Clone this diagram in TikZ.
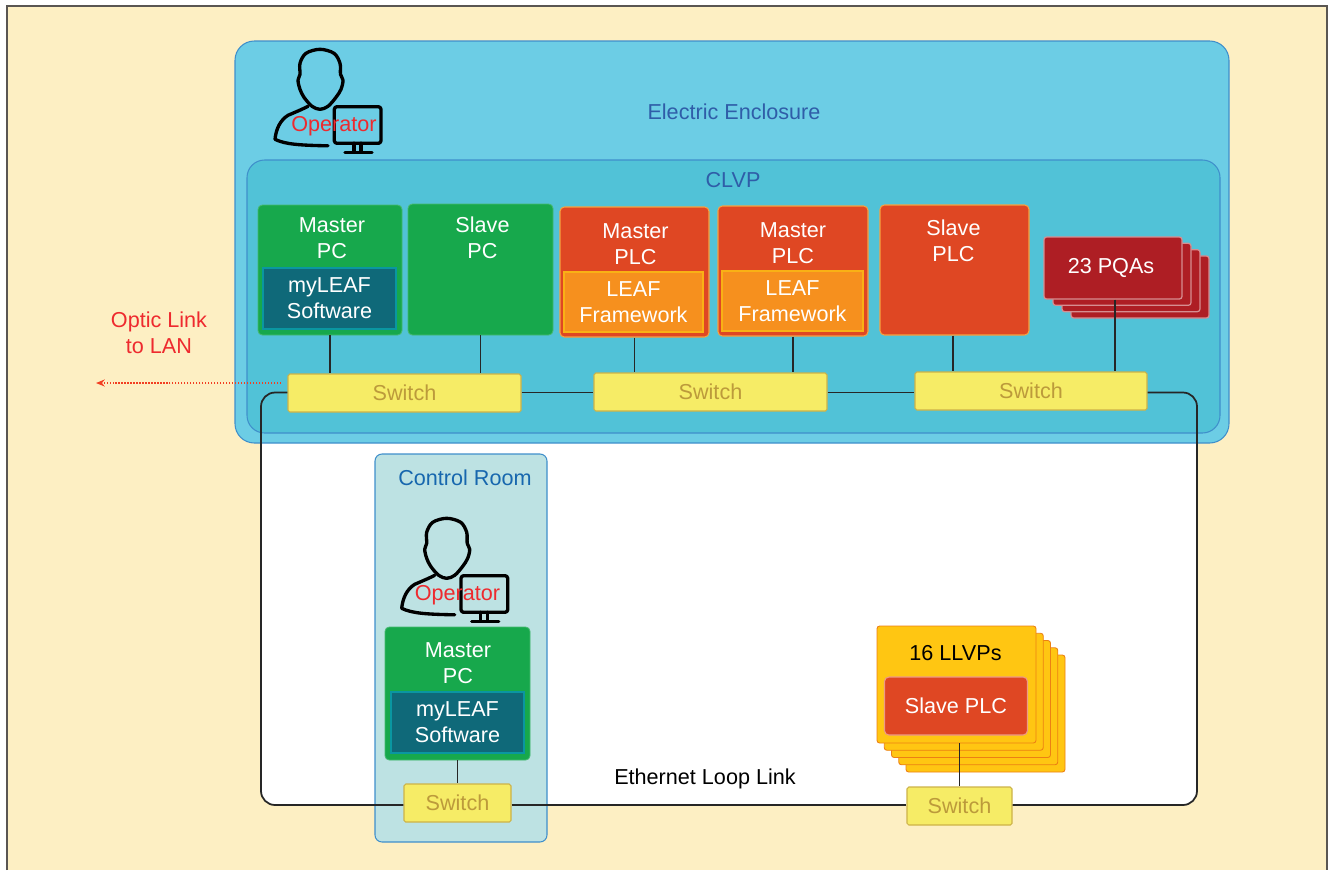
\documentclass[tikz,border=0pt]{standalone}
\usepackage{fontspec}
\setmainfont{Liberation Sans}
\usetikzlibrary{arrows.meta}
\definecolor{cream}{HTML}{FDEFC3}
\definecolor{framegray}{HTML}{5A5652}
\definecolor{enclfill}{HTML}{6CCDE5}
\definecolor{clvpfill}{HTML}{51C2D7}
\definecolor{edgeblue}{HTML}{3F8FCB}
\definecolor{titleblue}{HTML}{2F5DA8}
\definecolor{roomfill}{HTML}{BDE2E3}
\definecolor{roomblue}{HTML}{1767AE}
\definecolor{pcgreen}{HTML}{17A84C}
\definecolor{softteal}{HTML}{0F6979}
\definecolor{plcred}{HTML}{DF4723}
\definecolor{leaforange}{HTML}{F6901E}
\definecolor{pqared}{HTML}{AE1E24}
\definecolor{llvpyellow}{HTML}{FFC612}
\definecolor{swyellow}{HTML}{F6EC66}
\definecolor{swtext}{HTML}{BC9A3B}
\definecolor{oprred}{HTML}{EE2A2E}
\tikzset{
  sz/.style 2 args={minimum width=#1*0.02cm,minimum height=#2*0.02cm,inner sep=0pt},
  lbl/.style={font=\fontsize{12.3}{14.8}\selectfont,align=center,inner sep=0pt},
  wlbl/.style={lbl,white},
  pcbox/.style={draw=pcgreen!80!white,fill=pcgreen,line width=0.5pt,rounded corners=2.5pt},
  softbox/.style={wlbl,draw=softteal!70!cyan,fill=softteal,line width=0.6pt},
  plcbox/.style={draw=leaforange!85!white,fill=plcred,line width=0.6pt,rounded corners=2.5pt},
  leafbox/.style={wlbl,draw=leaforange!70!yellow,fill=leaforange,line width=0.6pt},
  pqabox/.style={draw=pqared!50!white,fill=pqared,line width=0.7pt,rounded corners=1.5pt},
  llvpbox/.style={draw=orange!70!brown,fill=llvpyellow,line width=0.5pt,rounded corners=1.5pt},
  switchbox/.style={lbl,swtext,draw=swtext!70!swyellow,fill=swyellow,line width=0.6pt,rounded corners=1pt},
  link/.style={line width=1pt,black!85},
  opline/.style={line width=1.9pt,black,line cap=round,line join=round},
}
% operator figure, origin at the top of the head
\newcommand{\opicon}[2]{
  \begin{scope}[shift={(#1,#2)}]
    \draw[opline] plot[smooth cycle,tension=.55] coordinates {(0,0) (14,4) (20,14) (20.5,25) (23,31) (21,40) (16,48) (8,57) (0,60) (-8,57) (-16,48) (-20,40) (-22,31) (-20,25) (-20,14) (-14,4)};
    \draw[opline] (-12,57) .. controls (-18,60) .. (-32,66) .. controls (-40,71) and (-44,80) .. (-45,90) .. controls (-35,95) and (-20,96) .. (8,96.5);
    \draw[opline,rounded corners=1.5pt] (14.3,57.4) rectangle (61,94);
    \draw[opline] (34,94) -- (34,103);
    \draw[opline] (41,94) -- (41,103);
    \draw[opline] (25,103) -- (52,103);
  \end{scope}
}
\begin{document}
\begin{tikzpicture}[x=0.02cm,y=-0.02cm]
  \useasboundingbox (0,0) rectangle (1329,870);
  \fill[white] (0,0) rectangle (1329,870);
  \fill[cream] (7,6) rectangle (1327,870);
  \draw[framegray,line width=1.2pt] (7,870) -- (7,6) -- (1327,6) -- (1327,870);

  % white area inside the ethernet loop
  \fill[white,rounded corners=8pt] (261,392) rectangle (1197,805);

  % enclosure and room panels
  \node[sz={994}{402},draw=edgeblue,fill=enclfill,line width=0.6pt,rounded corners=11pt] (encl) at (732,242) {};
  \node[sz={973}{273},draw=edgeblue,fill=clvpfill,line width=0.6pt,rounded corners=10pt] (clvp) at (733.5,296.5) {};
  \node[sz={172}{388},draw=edgeblue,fill=roomfill,line width=0.6pt,rounded corners=4pt] (room) at (461,648) {};

  \node[lbl,titleblue] (encltxt) at (734,112) {Electric Enclosure};
  \node[lbl,titleblue] (clvptxt) at (733,180) {CLVP};
  \node[lbl,roomblue] (roomtxt) at (465,478) {Control Room};
  \node[lbl,oprred] (optictxt) at (159,332.5) {Optic Link\\to LAN};
  \node[lbl,black] (looptxt) at (705,778.5) {Ethernet Loop Link};

  \opicon{320}{49.3}
  \opicon{446.7}{518.3}
  \node[lbl,oprred] (opr1) at (334,126.5) {Operator};
  \node[lbl,oprred] (opr2) at (457.5,595.5) {Operator};

  % CLVP cabinets
  \node[pcbox,sz={144}{130}] (mpc) at (330,270) {};
  \node[wlbl] (mpctxt) at (332,238) {Master\\PC};
  \node[softbox,sz={133}{61}] (msoft) at (329.5,298.5) {myLEAF\\Software};

  \node[pcbox,sz={145}{131}] (spc) at (480.5,269.5) {};
  \node[wlbl] (spctxt) at (482.5,238) {Slave\\PC};

  \node[plcbox,sz={149}{130}] (mplca) at (634.5,272) {};
  \node[wlbl] (mplcatxt) at (635.5,244) {Master\\PLC};
  \node[leafbox,sz={139}{60}] (leafa) at (633.5,302) {LEAF\\Framework};

  \node[plcbox,sz={150}{130}] (mplcb) at (793,271) {};
  \node[wlbl] (mplcbtxt) at (793,243) {Master\\PLC};
  \node[leafbox,sz={141}{60}] (leafb) at (792.5,301) {LEAF\\Framework};

  \node[plcbox,sz={149}{130}] (splc) at (954.5,270) {};
  \node[wlbl] (splctxt) at (953.5,240.5) {Slave\\PLC};

  % stack of PQAs
  \foreach \i in {3,2,1} {
    \node[pqabox,sz={138}{62}] (pqa\i) at ({1113+9*\i},{268+6.33*\i}) {};
  }
  \node[pqabox,sz={138}{62}] (pqa) at (1113,268) {};
  \node[wlbl] (pqatxt) at (1111,267.5) {23 PQAs};

  % stack of LLVPs
  \foreach \i in {4,3,2,1} {
    \node[llvpbox,sz={159}{117}] (llvp\i) at ({956.5+7.25*\i},{684.5+7.25*\i}) {};
  }
  \node[llvpbox,sz={159}{117}] (llvp) at (956.5,684.5) {};
  \node[lbl,black] (llvptxt) at (955.5,653.5) {16 LLVPs};
  \node[wlbl,plcbox,sz={143}{58},draw=plcred!55!white] (llplc) at (956,706) {Slave PLC};

  % control room PC
  \node[pcbox,sz={145}{133}] (rpc) at (457.5,693.5) {};
  \node[wlbl] (rpctxt) at (458,663.5) {Master\\PC};
  \node[softbox,sz={133}{61}] (rsoft) at (457.5,722.5) {myLEAF\\Software};

  % switches
  \node[switchbox,sz={233}{38}] (swa) at (404.5,393) {Switch};
  \node[switchbox,sz={233}{38}] (swb) at (710.5,392) {Switch};
  \node[switchbox,sz={232}{38}] (swc) at (1031,391) {Switch};
  \node[switchbox,sz={107}{38}] (swroom) at (457.5,803) {Switch};
  \node[switchbox,sz={105}{38}] (swll) at (959.5,806) {Switch};

  % drops to the switches
  \draw[link] (mpc.south) -- (mpc.south |- swa.north);
  \draw[link] (spc.south) -- (spc.south |- swa.north);
  \draw[link] (mplca.south) -- (mplca.south |- swb.north);
  \draw[link] (mplcb.south) -- (mplcb.south |- swb.north);
  \draw[link] ([xshift=-0.035cm]splc.south) -- ([xshift=-0.035cm]splc.south |- swc.north);
  \draw[link] ([xshift=0.04cm]pqa.south) -- ([xshift=0.04cm]pqa.south |- swc.north);
  \draw[link] (rpc.south) -- (swroom.north);
  \draw[link] (swll.north |- llvp.south) -- (swll.north);

  % ethernet loop
  \coordinate (loopnw) at (261,392.5);
  \coordinate (loopsw) at (261,805);
  \coordinate (loopse) at (1197,805);
  \coordinate (loopne) at (1197,392.5);
  \draw[link,rounded corners=8pt] (swa.west |- loopnw) -- (loopnw) -- (loopsw) -- (swroom.west |- loopsw);
  \draw[link] (swroom.east |- loopsw) -- (swll.west |- loopsw);
  \draw[link,rounded corners=8pt] (swll.east |- loopse) -- (loopse) -- (loopne) -- (swc.east |- loopne);
  \draw[link] (swa.east |- loopnw) -- (swb.west |- loopnw);
  \draw[link] (swb.east |- loopnw) -- (swc.west |- loopnw);

  % optic link
  \coordinate (opta) at (281,383);
  \coordinate (optb) at (96,383);
  \draw[oprred!75!orange,line width=0.7pt,densely dotted,-{Stealth[length=5pt,width=4pt]}] (opta) -- (optb);
\end{tikzpicture}
\end{document}
